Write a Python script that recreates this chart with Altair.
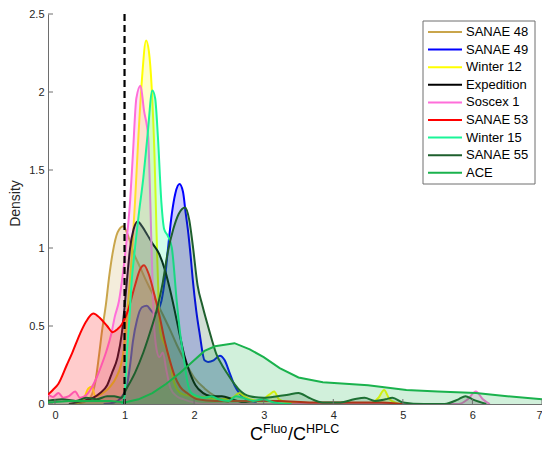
import altair as alt
import pandas as pd

# ---------------- data ----------------
series_names = ["SANAE 48", "SANAE 49", "Winter 12", "Expedition", "Soscex 1",
                "SANAE 53", "Winter 15", "SANAE 55", "ACE"]
series_colors = ["#C9A54B", "#0000FF", "#FFFF00", "#000000", "#FF6EDA",
                 "#FF0000", "#1AF598", "#1E5F2D", "#1AB24D"]

sanae48_x = [0.3, 0.45, 0.52, 0.58, 0.63, 0.68, 0.73, 0.78, 0.83, 0.9, 0.98, 1.05, 1.12, 1.22,
             1.3, 1.4, 1.52, 1.65, 1.75, 1.85, 2.0, 2.15, 2.3, 2.5]
sanae48_y = [0.0, 0.02, 0.05, 0.14, 0.3, 0.48, 0.63, 0.82, 0.97, 1.1, 1.14, 1.08, 0.98, 0.88,
             0.8, 0.71, 0.6, 0.48, 0.38, 0.29, 0.17, 0.1, 0.05, 0.01]

sanae49_x = [0.7, 0.85, 0.95, 1.03, 1.08, 1.12, 1.18, 1.25, 1.32, 1.38, 1.43, 1.48, 1.53, 1.58,
             1.63, 1.68, 1.73, 1.79, 1.84, 1.88, 1.91, 1.95, 1.98, 2.03, 2.08, 2.15, 2.2, 2.28,
             2.37, 2.44, 2.51, 2.58, 2.65, 2.75, 2.9]
sanae49_y = [0.0, 0.01, 0.04, 0.11, 0.25, 0.4, 0.54, 0.62, 0.63, 0.6, 0.58, 0.6, 0.66, 0.8,
             1.02, 1.22, 1.35, 1.41, 1.36, 1.22, 1.12, 0.95, 0.8, 0.6, 0.45, 0.28, 0.27, 0.28,
             0.31, 0.28, 0.2, 0.12, 0.07, 0.03, 0.01]

winter12_x = [0.3, 0.42, 0.48, 0.53, 0.58, 0.65, 0.72, 0.79, 0.88, 0.98, 1.03, 1.07, 1.1, 1.15,
              1.2, 1.25, 1.31, 1.35, 1.39, 1.43, 1.46, 1.49, 1.52, 1.56, 1.6, 1.65, 1.7, 1.76,
              1.85, 2.0, 2.2, 2.4, 2.55, 2.65, 2.72, 2.8, 2.95, 3.08, 3.15, 3.22, 3.35, 3.6,
              4.5, 4.65, 4.73, 4.81, 4.95]
winter12_y = [0.0, 0.04, 0.1, 0.11, 0.05, 0.06, 0.08, 0.11, 0.17, 0.32, 0.55, 0.75, 0.92, 1.29,
              1.72, 2.08, 2.33, 2.26, 2.03, 1.6, 1.1, 0.65, 0.45, 0.4, 0.36, 0.28, 0.16, 0.09,
              0.06, 0.05, 0.04, 0.03, 0.04, 0.07, 0.05, 0.03, 0.02, 0.06, 0.08, 0.03, 0.01, 0.0,
              0.0, 0.04, 0.09, 0.03, 0.0]

expedition_x = [0.2, 0.4, 0.55, 0.65, 0.75, 0.82, 0.9, 0.96, 1.0, 1.04, 1.08, 1.13, 1.19, 1.25,
                1.32, 1.4, 1.5, 1.58, 1.65, 1.72, 1.79, 1.86, 1.94, 2.02, 2.13, 2.25, 2.4, 2.55,
                2.7, 2.85]
expedition_y = [0.0, 0.02, 0.04, 0.07, 0.12, 0.2, 0.3, 0.45, 0.62, 0.82, 1.0, 1.12, 1.17, 1.14,
                1.09, 1.03, 0.96, 0.86, 0.74, 0.6, 0.45, 0.31, 0.2, 0.12, 0.07, 0.05, 0.05, 0.03,
                0.01, 0.0]

soscex1_x = [-0.1, -0.03, 0.05, 0.12, 0.2, 0.29, 0.36, 0.43, 0.52, 0.6, 0.67, 0.74, 0.81, 0.86,
             0.92, 0.98, 1.03, 1.08, 1.12, 1.17, 1.23, 1.28, 1.34, 1.37, 1.39, 1.42, 1.46, 1.5,
             1.55, 1.6, 1.66, 1.75, 1.85, 2.0, 2.15, 5.8, 5.93, 6.05, 6.15, 6.25]
soscex1_y = [0.06, 0.045, 0.07, 0.04, 0.05, 0.08, 0.04, 0.05, 0.1, 0.17, 0.25, 0.34, 0.45, 0.56,
             0.66, 0.85, 1.05, 1.3, 1.6, 1.96, 2.04, 1.88, 1.71, 1.3, 0.97, 0.55, 0.35, 0.3,
             0.33, 0.22, 0.1, 0.05, 0.03, 0.01, 0.0, 0.0, 0.03, 0.08, 0.03, 0.0]

sanae53_x = [-0.1, -0.03, 0.05, 0.17, 0.25, 0.36, 0.45, 0.55, 0.65, 0.75, 0.83, 0.9, 0.96, 1.05,
             1.15, 1.22, 1.28, 1.35, 1.43, 1.51, 1.58, 1.65, 1.72, 1.8, 1.9, 2.05, 2.3, 2.7,
             3.2, 3.7, 4.2, 4.7, 5.0]
sanae53_y = [0.06, 0.09, 0.13, 0.25, 0.33, 0.45, 0.53, 0.58, 0.55, 0.5, 0.46, 0.48, 0.51, 0.6,
             0.76, 0.86, 0.89, 0.83, 0.7, 0.55, 0.4, 0.28, 0.18, 0.11, 0.07, 0.03, 0.02, 0.02,
             0.02, 0.01, 0.01, 0.01, 0.0]

winter15_x = [0.96, 1.0, 1.03, 1.07, 1.1, 1.15, 1.2, 1.27, 1.33, 1.4, 1.44, 1.48, 1.53, 1.57,
              1.62, 1.68, 1.75, 1.8, 1.85, 1.9, 1.96, 2.05, 2.15, 2.25, 2.35, 2.5, 2.6, 2.7,
              2.85, 3.0, 3.15, 3.4]
winter15_y = [0.0, 0.05, 0.3, 0.55, 0.77, 1.0, 1.2, 1.45, 1.72, 2.01, 1.96, 1.71, 1.29, 1.12,
              1.08, 1.0, 0.66, 0.45, 0.3, 0.15, 0.07, 0.05, 0.04, 0.05, 0.03, 0.02, 0.05, 0.04,
              0.02, 0.03, 0.01, 0.0]

sanae55_x = [-0.1, 0.1, 0.3, 0.45, 0.6, 0.75, 0.85, 0.95, 1.03, 1.15, 1.27, 1.36, 1.46, 1.55,
             1.62, 1.7, 1.78, 1.87, 1.93, 1.98, 2.05, 2.12, 2.18, 2.25, 2.32, 2.4, 2.47, 2.56,
             2.65, 2.8, 3.0, 3.2, 3.35, 3.5, 3.65, 3.85, 4.1, 4.3, 4.45, 4.6, 4.75, 4.85, 5.0,
             5.3, 5.6, 5.8, 5.9, 6.0, 6.2]
sanae55_y = [0.02, 0.03, 0.02, 0.04, 0.03, 0.05, 0.05, 0.04, 0.1, 0.2, 0.33, 0.45, 0.6, 0.78,
             0.97, 1.12, 1.22, 1.26, 1.18, 1.02, 0.76, 0.63, 0.53, 0.42, 0.32, 0.25, 0.2, 0.14,
             0.09, 0.05, 0.04, 0.05, 0.06, 0.07, 0.04, 0.01, 0.01, 0.03, 0.04, 0.02, 0.03, 0.04,
             0.01, 0.0, 0.0, 0.03, 0.05, 0.03, 0.0]

ace_x = [-0.1, 0.2, 0.5, 0.8, 1.0, 1.2, 1.4, 1.6, 1.8, 2.0, 2.15, 2.3, 2.58, 2.8, 3.0, 3.23,
         3.5, 3.85, 4.5, 5.05, 5.5, 6.05, 6.5, 7.0]
ace_y = [0.01, 0.02, 0.02, 0.02, 0.01, 0.03, 0.07, 0.13, 0.2, 0.28, 0.34, 0.37, 0.39, 0.35,
         0.3, 0.23, 0.17, 0.14, 0.12, 0.09, 0.08, 0.07, 0.05, 0.03]

series_x = [sanae48_x, sanae49_x, winter12_x, expedition_x, soscex1_x,
            sanae53_x, winter15_x, sanae55_x, ace_x]
series_y = [sanae48_y, sanae49_y, winter12_y, expedition_y, soscex1_y,
            sanae53_y, winter15_y, sanae55_y, ace_y]
series_interp = ["monotone"] * 8 + ["linear"]

x_ticks = [0, 1, 2, 3, 4, 5, 6, 7]
y_ticks = [0, 0.5, 1, 1.5, 2, 2.5]
ref_line_x = [1.0]
xtitle_parts = ["C", "Fluo", "/C", "HPLC"]
y_title = "Density"

# ---------------- styling ----------------
W, H = 494, 390
AXC = "#6e6e6e"
FONT = "Liberation Sans"

xscale = alt.Scale(domain=[-0.1, 7], nice=False, zero=False)
yscale = alt.Scale(domain=[0, 2.5], nice=False)
xaxis = alt.Axis(values=x_ticks, title="", labelPadding=5)
yaxis = alt.Axis(values=y_ticks, title=y_title, format="~g", titlePadding=6,
                 titleY=189)


def X(f):
    return alt.X(f, type="quantitative", scale=xscale, axis=xaxis)


def Y(f):
    return alt.Y(f, type="quantitative", scale=yscale, axis=yaxis)


layers = []
for name, color, xs, ys, interp in zip(series_names, series_colors, series_x,
                                        series_y, series_interp):
    df = pd.DataFrame({"x": xs, "y": ys, "series": name})
    base = alt.Chart(df)
    layers.append(base.mark_area(color=color, fillOpacity=0.2, interpolate=interp,
                                 clip=True).encode(x=X("x"), y=Y("y")))
    layers.append(base.mark_line(color=color, strokeWidth=2, interpolate=interp,
                                 clip=True).encode(x=X("x"), y=Y("y")))

# dashed reference line
layers.append(alt.Chart(pd.DataFrame({"v": ref_line_x})).mark_rule(
    color="black", strokeWidth=2.2, strokeDash=[7, 4]).encode(
    x=X("v"), y=alt.value(0), y2=alt.value(H)))

# inward ticks
layers.append(alt.Chart(pd.DataFrame({"v": x_ticks})).mark_rule(
    color=AXC, strokeWidth=1).encode(x=X("v"), y=alt.value(H), y2=alt.value(H - 5)))
layers.append(alt.Chart(pd.DataFrame({"v": y_ticks})).mark_rule(
    color=AXC, strokeWidth=1).encode(y=Y("v"), x=alt.value(0), x2=alt.value(5)))

# legend
leg_df = pd.DataFrame({"name": series_names, "color": series_colors,
                       "i": list(range(len(series_names)))})
layers.append(alt.Chart(pd.DataFrame({"a": [0]})).mark_rect(
    fill="white", stroke=AXC, strokeWidth=1).encode(
    x=alt.value(375), x2=alt.value(487), y=alt.value(7), y2=alt.value(170)))
leg = alt.Chart(leg_df).transform_calculate(ly="18 + datum.i * 17.6")
layers.append(leg.mark_rule(strokeWidth=2).encode(
    x=alt.value(380), x2=alt.value(414), y=alt.Y("ly:Q", scale=None),
    color=alt.Color("color:N", scale=None)))
layers.append(leg.mark_text(align="left", baseline="middle", font=FONT, fontSize=13,
                            color="black").encode(
    x=alt.value(418), y=alt.Y("ly:Q", scale=None), text="name:N"))

# x title with superscripts
title_specs = [(xtitle_parts[0], 202, 426, 18), (xtitle_parts[1], 215, 419, 12.5),
               (xtitle_parts[2], 240, 426, 18), (xtitle_parts[3], 258, 419, 12.5)]
for t, px, py, fs in title_specs:
    layers.append(alt.Chart(pd.DataFrame({"t": [t]})).mark_text(
        align="left", baseline="alphabetic", font=FONT, fontSize=fs,
        color="black").encode(x=alt.value(px), y=alt.value(py), text="t:N"))

chart = alt.layer(*layers).properties(
    width=W, height=H,
    autosize=alt.AutoSizeParams(type="none"),
    padding={"left": 40, "top": 6, "right": 0, "bottom": 41},
    background="white",
).configure_view(strokeWidth=0).configure_axis(
    grid=False, ticks=False, domainColor=AXC, domainWidth=1,
    labelFont=FONT, labelFontSize=11, labelColor="#262626",
    titleFont=FONT, titleFontSize=14, titleFontWeight="normal", titleColor="#262626",
    labelPadding=4,
)

chart.save("out.html", embed_options={"renderer": "svg", "actions": False})
